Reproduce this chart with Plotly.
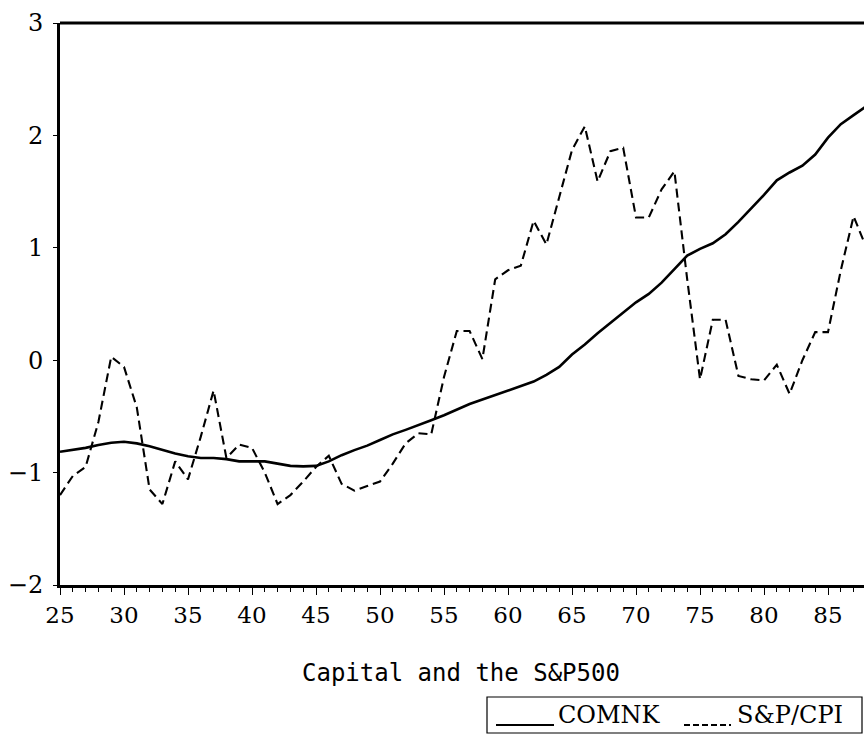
import plotly.graph_objects as go

years = list(range(25, 89))

comnk = [-0.815, -0.80, -0.78, -0.755, -0.735, -0.725, -0.74, -0.765, -0.80, -0.83,
         -0.855, -0.87, -0.87, -0.88, -0.90, -0.90, -0.90, -0.92, -0.94, -0.945,
         -0.94, -0.90, -0.845, -0.80, -0.76, -0.71, -0.66, -0.62, -0.58, -0.535,
         -0.49, -0.44, -0.39, -0.35, -0.31, -0.27, -0.23, -0.19, -0.13, -0.06,
         0.05, 0.14, 0.24, 0.33, 0.42, 0.515, 0.59, 0.69, 0.81, 0.93,
         0.99, 1.04, 1.12, 1.23, 1.35, 1.47, 1.60, 1.67, 1.73, 1.83,
         1.98, 2.10, 2.18, 2.26]

sp_cpi = [-1.20, -1.03, -0.95, -0.55, 0.03, -0.06, -0.42, -1.15, -1.28, -0.90,
          -1.06, -0.68, -0.27, -0.87, -0.75, -0.78, -1.00, -1.28, -1.20, -1.08,
          -0.95, -0.85, -1.10, -1.16, -1.12, -1.08, -0.92, -0.74, -0.65, -0.66,
          -0.15, 0.26, 0.26, 0.01, 0.72, 0.80, 0.84, 1.24, 1.03, 1.46,
          1.87, 2.08, 1.59, 1.86, 1.89, 1.27, 1.27, 1.52, 1.68, 0.72,
          -0.17, 0.36, 0.36, -0.14, -0.17, -0.18, -0.04, -0.30, 0.00, 0.25,
          0.25, 0.80, 1.28, 1.00]

x_ticks = [25, 30, 35, 40, 45, 50, 55, 60, 65, 70, 75, 80, 85]
y_ticks = [-2, -1, 0, 1, 2, 3]

title_text = "Capital and the S&P500"
series_names = ["COMNK", "S&P/CPI"]

W, H = 864, 738
L, R, T, B = 60, 0, 23, 153
PW, PH = W - L - R, H - T - B


def px(xp):
    return (xp - L) / PW


def py(yp):
    return (H - B - yp) / PH


fig = go.Figure()
fig.add_trace(go.Scatter(x=years, y=comnk, mode="lines", name=series_names[0],
                         line=dict(color="black", width=2.6), showlegend=False))
fig.add_trace(go.Scatter(x=years, y=sp_cpi, mode="lines", name=series_names[1],
                         line=dict(color="black", width=2.1, dash="9px,5px"),
                         showlegend=False))

# top border
fig.add_shape(type="line", xref="paper", yref="paper", x0=0, x1=1, y0=1, y1=1,
              line=dict(color="black", width=3))

# legend box (drawn manually)
fig.add_shape(type="rect", xref="paper", yref="paper",
              x0=px(487), x1=px(862), y0=py(697), y1=py(733),
              line=dict(color="black", width=1.2))
fig.add_shape(type="line", xref="paper", yref="paper",
              x0=px(496), x1=px(554), y0=py(725), y1=py(725),
              line=dict(color="black", width=2))
fig.add_shape(type="line", xref="paper", yref="paper",
              x0=px(684), x1=px(731), y0=py(725), y1=py(725),
              line=dict(color="black", width=2, dash="6px,3px"))
fig.add_annotation(xref="paper", yref="paper", x=px(556), y=py(715),
                   xanchor="left", yanchor="middle", showarrow=False,
                   text=series_names[0],
                   font=dict(family="DejaVu Serif", size=24, color="black"))
fig.add_annotation(xref="paper", yref="paper", x=px(735), y=py(715),
                   xanchor="left", yanchor="middle", showarrow=False,
                   text=series_names[1],
                   font=dict(family="DejaVu Serif", size=24, color="black"))

# caption under the axis
fig.add_annotation(xref="paper", yref="paper", x=px(461), y=py(673),
                   xanchor="center", yanchor="middle", showarrow=False,
                   text=title_text,
                   font=dict(family="DejaVu Sans Mono", size=24, color="black"))

fig.update_layout(
    width=W, height=H,
    margin=dict(l=L, r=R, t=T, b=B, pad=0),
    paper_bgcolor="white", plot_bgcolor="white",
    showlegend=False,
    xaxis=dict(range=[25, 25 + PW / 12.8], tickvals=x_ticks,
               ticks="outside", ticklen=7, tickwidth=1.2, tickcolor="black",
               minor=dict(dtick=1, ticks="outside", ticklen=4, tickwidth=1, tickcolor="black"),
               showline=True, linecolor="black", linewidth=3,
               showgrid=False, zeroline=False,
               tickfont=dict(family="DejaVu Serif", size=23, color="black"),
               ticklabelstandoff=0),
    yaxis=dict(range=[-2, 3], tickvals=y_ticks,
               ticks="outside", ticklen=4, tickwidth=1.2, tickcolor="black",
               showline=True, linecolor="black", linewidth=3,
               showgrid=False, zeroline=False,
               tickfont=dict(family="DejaVu Serif", size=24, color="black"),
               ticklabelstandoff=5),
)

fig.write_html("out.html", config={"displayModeBar": False},
               post_script="document.body.style.margin='0';document.body.style.overflow='hidden';")
